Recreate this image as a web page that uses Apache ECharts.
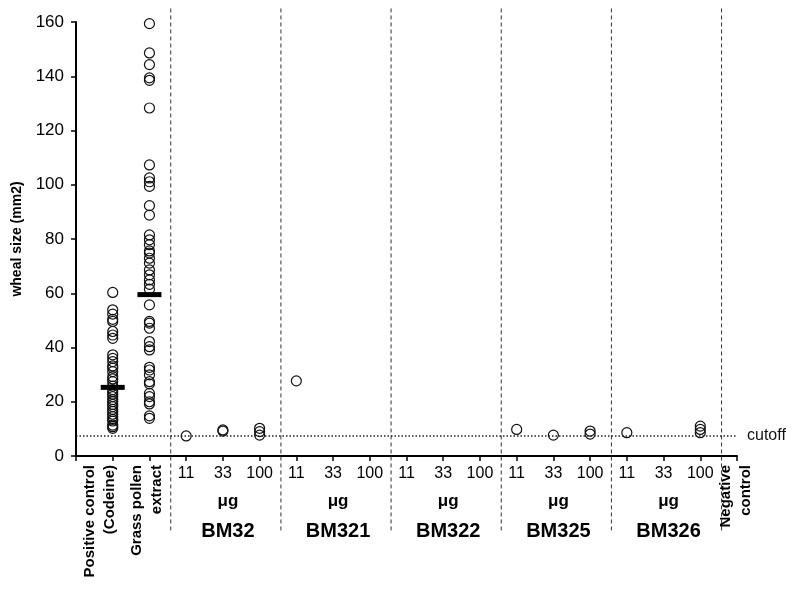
<!DOCTYPE html>
<html lang="en">
<head>
    <meta charset="UTF-8">
    <title>Wheal size</title>
    <script src="https://cdn.jsdelivr.net/npm/echarts@6/dist/echarts.min.js"></script>
    <style>
        body { margin: 0; background: #fff; }
    </style>
</head>
<body>
    <div id="main" style="width: 800px; height: 590px;"></div>
    <script>
        // values (wheal size, mm2)
        var posControl = [60.3, 53.9, 52.3, 50.4, 49.6, 45.9, 44.6, 43.4, 37.3, 36.0, 34.8, 33.2, 32.4,
            31.1, 29.3, 28.4, 27.4, 25.8, 24.5, 23.7, 22.8, 21.9, 20.8, 20.0, 19.0, 18.2, 17.2, 16.4,
            15.4, 14.5, 13.5, 12.9, 11.4, 10.8, 10.2];
        var grassPollen = [159.4, 148.6, 144.3, 139.4, 138.5, 128.3, 107.3, 102.5, 101.1, 99.4, 92.3,
            88.8, 81.5, 79.7, 77.9, 75.6, 74.8, 72.9, 71.1, 68.6, 66.8, 64.9, 63.3, 61.5, 55.7, 49.6,
            49.0, 47.1, 42.2, 40.3, 39.1, 32.7, 31.7, 29.9, 27.4, 26.6, 23.1, 21.9, 20.0, 19.2, 14.8, 13.9];
        var bm32 = [[7.4], [9.6, 9.2], [10.2, 9.0, 7.7]];
        var bm321 = [[27.7], [], []];
        var bm322 = [[], [], []];
        var bm325 = [[9.8], [7.7], [9.2, 8.1]];
        var bm326 = [[8.6], [], [11.0, 9.8, 8.6]];
        var negControl = [];
        var means = [25.3, 59.5];
        var cutoff = 7.5;

        var groups = ['BM32', 'BM321', 'BM322', 'BM325', 'BM326'];
        var doses = ['11', '33', '100'];
        var unit = 'μg';
        var controlLabels = ['Positive control\n(Codeine)', 'Grass pollen\nextract', 'Negative\ncontrol'];

        var columns = [posControl, grassPollen].concat(bm32, bm321, bm322, bm325, bm326, [negControl]);
        var tickLabels = ['', ''];
        groups.forEach(function () { tickLabels = tickLabels.concat(doses); });
        tickLabels.push('');

        var points = [];
        columns.forEach(function (vals, i) {
            vals.forEach(function (v) { points.push([i, v]); });
        });
        var meanPts = means.map(function (v, i) { return [i, v]; });

        // separators sit just after each block of columns
        var sepIdx = [1, 4, 7, 10, 13, 16];
        var sepData = sepIdx.map(function (i) { return [i + 0.58, 0]; });
        var groupData = groups.map(function (g, k) { return [3 + 3 * k, 0]; });
        var ctrlData = [[0, 0], [1, 0], [17, 0]];
        var ctrlShift = [-13, -3, -1];

        var font = 'Liberation Sans, Arial, sans-serif';
        var myChart = echarts.init(document.getElementById('main'));

        var option = {
            animation: false,
            grid: { left: 76, top: 22, right: 63, bottom: 134, containLabel: false },
            xAxis: {
                type: 'value',
                min: -1,
                max: 17,
                interval: 1,
                splitLine: { show: false },
                axisLine: { onZero: false, lineStyle: { color: '#000', width: 2 } },
                axisTick: { length: 5, lineStyle: { color: '#000', width: 1.5 } },
                axisLabel: {
                    margin: 10,
                    color: '#000',
                    fontSize: 16,
                    fontFamily: font,
                    showMinLabel: true,
                    showMaxLabel: true,
                    formatter: function (v) { return tickLabels[v] || ''; }
                }
            },
            yAxis: {
                type: 'value',
                min: 0,
                max: 160,
                interval: 20,
                name: 'wheal size (mm2)',
                nameLocation: 'middle',
                nameGap: 52,
                nameTextStyle: { fontSize: 14, fontWeight: 'bold', color: '#000', fontFamily: font },
                splitLine: { show: false },
                axisLine: { onZero: false, lineStyle: { color: '#000', width: 2 } },
                axisTick: { length: 5, lineStyle: { color: '#000', width: 1.5 } },
                axisLabel: { margin: 12, color: '#000', fontSize: 17, fontFamily: font }
            },
            series: [
                {
                    type: 'custom',
                    clip: false,
                    silent: true,
                    data: sepData,
                    renderItem: function (params, api) {
                        var top = api.coord([api.value(0), 165]);
                        var base = api.coord([api.value(0), 0]);
                        return {
                            type: 'line',
                            shape: { x1: top[0], y1: top[1], x2: top[0], y2: base[1] + 76 },
                            style: { stroke: '#333', lineWidth: 1, lineDash: [4, 3] }
                        };
                    }
                },
                {
                    type: 'scatter',
                    symbol: 'circle',
                    symbolSize: 10,
                    silent: true,
                    itemStyle: { color: 'rgba(0,0,0,0)', borderColor: '#111', borderWidth: 1.2, opacity: 1 },
                    data: points,
                    markLine: {
                        silent: true,
                        symbol: 'none',
                        lineStyle: { color: '#222', width: 1.5, type: [1.5, 2] },
                        label: { show: true, position: 'end', formatter: 'cutoff', color: '#111',
                                 fontSize: 16, fontFamily: font, distance: 10 },
                        data: [{ yAxis: cutoff }]
                    }
                },
                {
                    type: 'scatter',
                    symbol: 'rect',
                    symbolSize: [24, 5],
                    silent: true,
                    itemStyle: { color: '#000', opacity: 1 },
                    data: meanPts,
                    z: 3
                },
                {
                    type: 'custom',
                    clip: false,
                    silent: true,
                    data: groupData,
                    renderItem: function (params, api) {
                        var p = api.coord([api.value(0), 0]);
                        return {
                            type: 'group',
                            children: [
                                { type: 'text', x: p[0] + 5, y: p[1] + 45,
                                  style: { text: unit, font: 'bold 17px ' + font, fill: '#000',
                                           align: 'center', verticalAlign: 'middle' } },
                                { type: 'text', x: p[0] + 5, y: p[1] + 75,
                                  style: { text: groups[params.dataIndex], font: 'bold 20px ' + font,
                                           fill: '#000', align: 'center', verticalAlign: 'middle' } }
                            ]
                        };
                    }
                },
                {
                    type: 'custom',
                    clip: false,
                    silent: true,
                    data: ctrlData,
                    renderItem: function (params, api) {
                        var p = api.coord([api.value(0), 0]);
                        return {
                            type: 'text',
                            x: p[0] + ctrlShift[params.dataIndex],
                            y: p[1] + 9,
                            rotation: Math.PI / 2,
                            style: {
                                text: controlLabels[params.dataIndex],
                                font: 'bold 15px ' + font,
                                lineHeight: 20,
                                fill: '#000',
                                align: 'right',
                                verticalAlign: 'middle'
                            }
                        };
                    }
                }
            ]
        };

        myChart.setOption(option);
    </script>
</body>
</html>
